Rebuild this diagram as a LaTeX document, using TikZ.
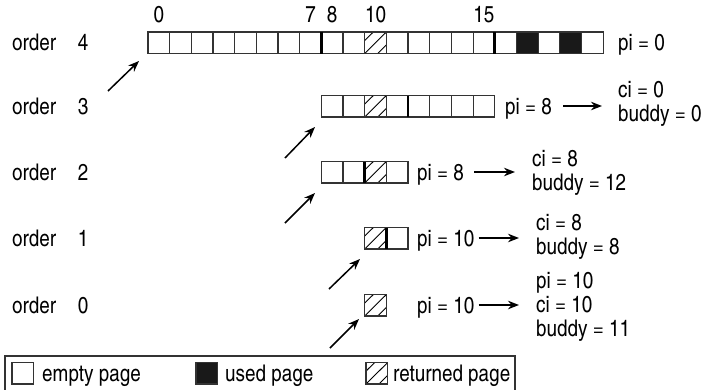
\documentclass[tikz,border=0pt]{standalone}
\usepackage{fontspec}
\setmainfont{texgyreheroscn}[Extension=.otf,UprightFont=*-regular,BoldFont=*-bold]
\usetikzlibrary{arrows.meta,positioning,calc}

\newcommand{\cellw}{21.67}
\newcommand{\cellh}{21.5}
\newcommand{\pagecell}[2]{\draw[cellbox] (#1,#2) rectangle ++(\cellw,\cellh);}
\newcommand{\usedcell}[2]{%
  \fill[black!90] (#1,#2) rectangle ++(\cellw,\cellh);
  \draw[cellbox] (#1,#2) rectangle ++(\cellw,\cellh);}
\newcommand{\retcell}[2]{%
  \begin{scope}[shift={(#1,#2)}]
    \draw[hatch] (0,0.4*\cellh) -- (0.4*\cellw,0);
    \draw[hatch] (0,\cellh) -- (\cellw,0);
    \draw[hatch] (0.6*\cellw,\cellh) -- (\cellw,0.6*\cellh);
    \draw[cellbox] (0,0) rectangle (\cellw,\cellh);
  \end{scope}}

\begin{document}
\begin{tikzpicture}[x=1pt,y=-1pt,
  txt/.style={font=\fontsize{23}{27}\selectfont,inner sep=0pt,anchor=base west},
  cellbox/.style={draw=black!80,line width=1.1pt},
  hatch/.style={line width=0.9pt},
  sep/.style={line width=2.6pt},
  arr/.style={-{Stealth[length=11pt,width=8.5pt]},line width=1.5pt}]
  \useasboundingbox (0,0) rectangle (702,389);

  % order 4
  \foreach \i in {0,...,20} {\pagecell{148+\i*\cellw}{32}}
  \retcell{148+10*\cellw}{32}
  \usedcell{148+17*\cellw}{32}
  \usedcell{148+19*\cellw}{32}
  \draw[sep] (148+8*\cellw,32) -- ++(0,\cellh);
  \draw[sep] (148+16*\cellw,32) -- ++(0,\cellh);
  \foreach \i in {0,7,8,10,15}
    \node[txt,anchor=base] (idx\i) at (148+\i*\cellw+0.5*\cellw,22) {\i};

  % order 3
  \foreach \i in {8,...,15} {\pagecell{148+\i*\cellw}{95.5}}
  \retcell{148+10*\cellw}{95.5}
  \draw[sep] (148+12*\cellw,95.5) -- ++(0,\cellh);

  % order 2
  \foreach \i in {8,...,11} {\pagecell{148+\i*\cellw}{161.5}}
  \retcell{148+10*\cellw}{161.5}
  \draw[sep] (148+10*\cellw,161.5) -- ++(0,\cellh);

  % order 1
  \pagecell{148+11*\cellw}{227.5}
  \retcell{148+10*\cellw}{227.5}
  \draw[sep] (148+11*\cellw,227.5) -- ++(0,\cellh);

  % order 0
  \retcell{148+10*\cellw}{294.5}

  \foreach \k/\y in {4/50,3/114,2/180,1/246,0/313} {
    \node[txt] (order\k) at (12,\y) {order};
    \node[txt,anchor=base] (num\k) at (83,\y) {\k};
  }

  \node[txt] (pi4) at (618,50) {pi = 0};
  \node[txt] (pi3) at (505,114) {pi = 8};
  \node[txt] (pi2) at (417,180) {pi = 8};
  \node[txt] (pi1) at (417,246) {pi = 10};
  \node[txt] (pi0) at (417,313) {pi = 10};

  \node[txt] (ci3) at (618,97) {ci = 0};
  \node[txt] (bd3) at (618,121) {buddy = 0};
  \node[txt] (ci2) at (532,166) {ci = 8};
  \node[txt] (bd2) at (532,190) {buddy = 12};
  \node[txt] (ci1) at (536,230) {ci = 8};
  \node[txt] (bd1) at (536,254) {buddy = 8};
  \node[txt] (pn0) at (536,288) {pi = 10};
  \node[txt] (ci0) at (536,312) {ci = 10};
  \node[txt] (bd0) at (536,336) {buddy = 11};

  \draw[arr] ([xshift=11pt,yshift=8pt]pi3.base east) -- ([xshift=-16pt,yshift=8pt]pi3.base east -| ci3.west);
  \draw[arr] ([xshift=10pt,yshift=8pt]pi2.base east) -- ([xshift=-17pt,yshift=8pt]pi2.base east -| ci2.west);
  \draw[arr] ([xshift=4pt,yshift=8pt]pi1.base east) -- ([xshift=-17pt,yshift=8pt]pi1.base east -| ci1.west);
  \draw[arr] ([xshift=4pt,yshift=8pt]pi0.base east) -- ([xshift=-17pt,yshift=8pt]pi0.base east -| ci0.west);

  \coordinate (t43) at (108,91);  \coordinate (h43) at (139,61);
  \coordinate (t32) at (285,158); \coordinate (h32) at (315,127);
  \coordinate (t21) at (285,223); \coordinate (h21) at (315,193);
  \coordinate (t10) at (329,289); \coordinate (h10) at (360,259);
  \coordinate (tl0) at (330,348); \coordinate (hl0) at (359,319);
  \draw[arr] (t43) -- (h43);
  \draw[arr] (t32) -- (h32);
  \draw[arr] (t21) -- (h21);
  \draw[arr] (t10) -- (h10);
  \draw[arr] (tl0) -- (hl0);

  % legend
  \draw[cellbox] (5,390) -- (5,356) -- (515,356) -- (515,390);
  \pagecell{12}{362.5}
  \usedcell{196}{362.5}
  \retcell{366}{362.5}
  \node[txt] (lgempty) at (42,381) {empty page};
  \node[txt] (lgused) at (225,381) {used page};
  \node[txt] (lgret) at (393,381) {returned page};
\end{tikzpicture}
\end{document}
